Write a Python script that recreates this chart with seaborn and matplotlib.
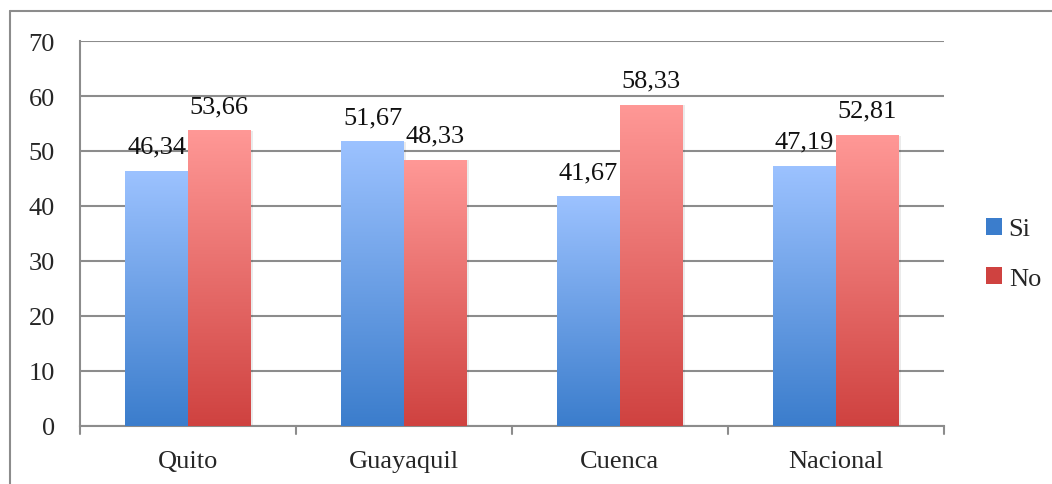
import numpy as np
import pandas as pd
import seaborn as sns
import matplotlib.pyplot as plt
from matplotlib.colors import LinearSegmentedColormap
from matplotlib.lines import Line2D
from matplotlib.patches import Patch

ciudades = ["Quito", "Guayaquil", "Cuenca", "Nacional"]
si = [46.34, 51.67, 41.67, 47.19]
no = [53.66, 48.33, 58.33, 52.81]
series = ["Si", "No"]

# gradient ends (top, bottom) for each series
grad = {"Si": ("#9cc2ff", "#3b7dcc"), "No": ("#ff9896", "#cf4240")}

df = pd.DataFrame({
    "ciudad": ciudades * 2,
    "respuesta": ["Si"] * len(si) + ["No"] * len(no),
    "valor": si + no,
})

sns.set_style("white")
plt.rcParams["font.family"] = ["Liberation Serif", "DejaVu Serif"]

fig = plt.figure(figsize=(10.52, 4.85), dpi=100)
ax = fig.add_axes([0.076, 0.1196, 0.821, 0.7938])

sns.barplot(data=df, x="ciudad", y="valor", hue="respuesta", hue_order=series,
            palette={k: v[1] for k, v in grad.items()}, width=0.58, gap=0,
            errorbar=None, legend=False, ax=ax, zorder=3)

# paint a vertical gradient over each bar
bars = ax.patches
for i, p in enumerate(bars):
    s = series[i // len(ciudades)]
    cmap = LinearSegmentedColormap.from_list(s, [grad[s][1], grad[s][0]])
    x, w, h = p.get_x(), p.get_width(), p.get_height()
    img = np.linspace(0, 1, 256).reshape(-1, 1)
    ax.imshow(img, cmap=cmap, origin="lower", aspect="auto",
              extent=[x, x + w, 0, h], zorder=3)
    # soft shadow on the right
    ax.add_patch(plt.Rectangle((x + w, 0), 0.012, h, color="#000000",
                               alpha=0.08, lw=0, zorder=2))
    p.set_visible(False)
    ax.text(x + w / 2, h + 2.5, f"{h:.2f}".replace(".", ","), ha="center",
            va="bottom", fontsize=19, color="#111111", zorder=4)

ax.set_xlim(-0.5, 3.5)
ax.set_ylim(0, 70)
ax.set_yticks(range(0, 71, 10))
ax.grid(axis="y", color="#8c8c8c", lw=1.5, zorder=0)
ax.set_axisbelow(True)
ax.set_xlabel("")
ax.set_ylabel("")

for side in ["top", "right"]:
    ax.spines[side].set_visible(False)
for side in ["left", "bottom"]:
    ax.spines[side].set_color("#8c8c8c")
    ax.spines[side].set_linewidth(1.5)

ax.tick_params(axis="y", length=8, width=1.5, color="#8c8c8c", labelsize=19, pad=10)
ax.tick_params(axis="x", length=0, labelsize=19, pad=17)
ax.set_xticks([0, 1, 2, 3])
ax.set_xticklabels(ciudades)
# category boundary ticks
for xb in np.arange(-0.5, 4, 1):
    ax.plot([xb, xb], [0, -1.4], color="#8c8c8c", lw=1.5, clip_on=False, zorder=1)

handles = [Patch(facecolor=grad[s][1], edgecolor="none") for s in series]
fig.legend(handles, series, loc="center left", bbox_to_anchor=(0.925, 0.475),
           frameon=False, fontsize=19, handlelength=0.6, handleheight=0.6,
           handletextpad=0.25, labelspacing=1.0, borderpad=0)

# outer chart border (only left/top visible)
fig.add_artist(Line2D([10 / 1052, 1], [1 - 12 / 485, 1 - 12 / 485],
                      transform=fig.transFigure, color="#8c8c8c", lw=1.5))
fig.add_artist(Line2D([10 / 1052, 10 / 1052], [0, 1 - 12 / 485],
                      transform=fig.transFigure, color="#8c8c8c", lw=1.5))

fig.savefig("out.png", dpi=100)
